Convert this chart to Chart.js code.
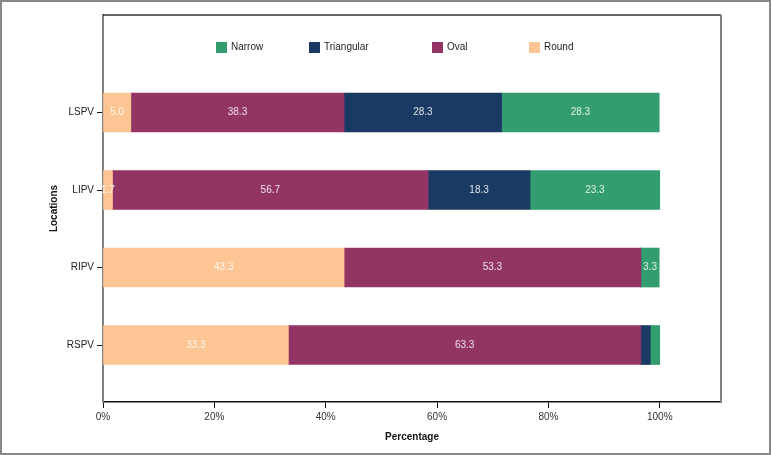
<!DOCTYPE html>
<html>
<head>
<meta charset="utf-8">
<script src="https://cdn.jsdelivr.net/npm/chart.js@4.4.1/dist/chart.umd.min.js"></script>
<style>
  html, body { margin: 0; padding: 0; background: #fff; }
  .wrap { width: 771px; height: 455px; position: relative; }
</style>
</head>
<body>
<div class="wrap"><canvas id="chart" width="771" height="455"></canvas></div>
<script>
const locations = ["LSPV", "LIPV", "RIPV", "RSPV"];
const round = [5.0, 1.7, 43.3, 33.3];
const oval = [38.3, 56.7, 53.3, 63.3];
const triangular = [28.3, 18.3, 0, 1.7];
const narrow = [28.3, 23.3, 3.3, 1.7];
const xTicks = [0, 20, 40, 60, 80, 100];

const FONT = "'Liberation Sans Narrow', 'Arial Narrow', 'Liberation Sans', Arial, sans-serif";

const toPoints = (vals) => vals.map((v, i) => ({ x: v, y: i }));

// legend is drawn inside the frame, so do it by hand
const legendX = [216, 309, 432, 529];
const legendOrder = [3, 2, 1, 0];

const framePlugin = {
  id: "frame",
  afterDatasetsDraw(chart) {
    const { ctx } = chart;
    ctx.save();
    // value labels
    ctx.font = "10px " + FONT;
    ctx.fillStyle = "rgba(255,255,255,0.85)";
    ctx.textAlign = "center";
    ctx.textBaseline = "middle";
    chart.data.datasets.forEach((ds, di) => {
      const meta = chart.getDatasetMeta(di);
      meta.data.forEach((bar, i) => {
        const v = ds.data[i].x;
        if (v <= 0) return;
        if (v < 3 && di !== 0) return;
        ctx.fillText(v.toFixed(1), (bar.x + bar.base) / 2, bar.y);
      });
    });
    ctx.restore();
  },
  afterDraw(chart) {
    const { ctx, chartArea: a } = chart;
    ctx.save();
    // top and right of the plot frame
    ctx.strokeStyle = "#333";
    ctx.lineWidth = 1.5;
    ctx.beginPath();
    ctx.moveTo(a.left, a.top);
    ctx.lineTo(a.right, a.top);
    ctx.stroke();
    ctx.strokeStyle = "#808080";
    ctx.lineWidth = 2;
    ctx.beginPath();
    ctx.moveTo(a.right, a.top);
    ctx.lineTo(a.right, a.bottom);
    ctx.stroke();

    // legend
    ctx.font = "10px " + FONT;
    ctx.textBaseline = "middle";
    ctx.textAlign = "left";
    legendOrder.forEach((di, k) => {
      const ds = chart.data.datasets[di];
      const x = legendX[k];
      ctx.fillStyle = ds.backgroundColor;
      ctx.fillRect(x, 42, 11, 11);
      ctx.fillStyle = "#222";
      ctx.fillText(ds.label, x + 15, 47.5);
    });

    // outer border
    ctx.strokeStyle = "#888";
    ctx.lineWidth = 2;
    ctx.strokeRect(1, 1, chart.width - 2, chart.height - 2);
    ctx.restore();
  },
};

new Chart(document.getElementById("chart"), {
  type: "bar",
  data: {
    datasets: [
      { label: "Round", data: toPoints(round), backgroundColor: "#fdc593" },
      { label: "Oval", data: toPoints(oval), backgroundColor: "#923565" },
      { label: "Triangular", data: toPoints(triangular), backgroundColor: "#1b3a63" },
      { label: "Narrow", data: toPoints(narrow), backgroundColor: "#339d70" },
    ],
  },
  options: {
    indexAxis: "y",
    responsive: false,
    animation: false,
    barThickness: 39,
    layout: { padding: { top: 15, right: 50, left: 0, bottom: 0 } },
    plugins: {
      legend: { display: false },
      tooltip: { enabled: false },
    },
    scales: {
      x: {
        type: "linear",
        stacked: true,
        min: 0,
        max: 111,
        afterBuildTicks: (s) => { s.ticks = xTicks.map((v) => ({ value: v })); },
        afterFit: (s) => { s.height = 53; },
        grid: { drawOnChartArea: false, tickLength: 6, color: "#111", tickWidth: 1 },
        border: { color: "#111", width: 1.5 },
        ticks: {
          padding: 3,
          color: "#333",
          font: { size: 10, family: FONT },
          callback: (v) => v + "%",
        },
        title: {
          display: true,
          text: "Percentage",
          color: "#111",
          font: { size: 10, weight: "bold", family: FONT },
          padding: { top: 4, bottom: 12 },
        },
      },
      y: {
        type: "linear",
        stacked: true,
        reverse: true,
        offset: false,
        bounds: "data",
        min: -1.258,
        max: 3.735,
        z: 1,
        afterBuildTicks: (s) => { s.ticks = locations.map((l, i) => ({ value: i })); },
        afterFit: (s) => { s.width = 103; },
        grid: { offset: false, drawOnChartArea: false, tickLength: 6, color: "#111", tickWidth: 1 },
        border: { color: "#808080", width: 2 },
        ticks: {
          padding: 3,
          color: "#222",
          autoSkip: false,
          font: { size: 10, family: FONT },
          callback: (v) => locations[v],
        },
        title: {
          display: true,
          text: "Locations",
          color: "#111",
          font: { size: 10, weight: "bold", family: FONT },
          padding: { top: 48, bottom: 0 },
        },
      },
    },
  },
  plugins: [framePlugin],
});
</script>
</body>
</html>
